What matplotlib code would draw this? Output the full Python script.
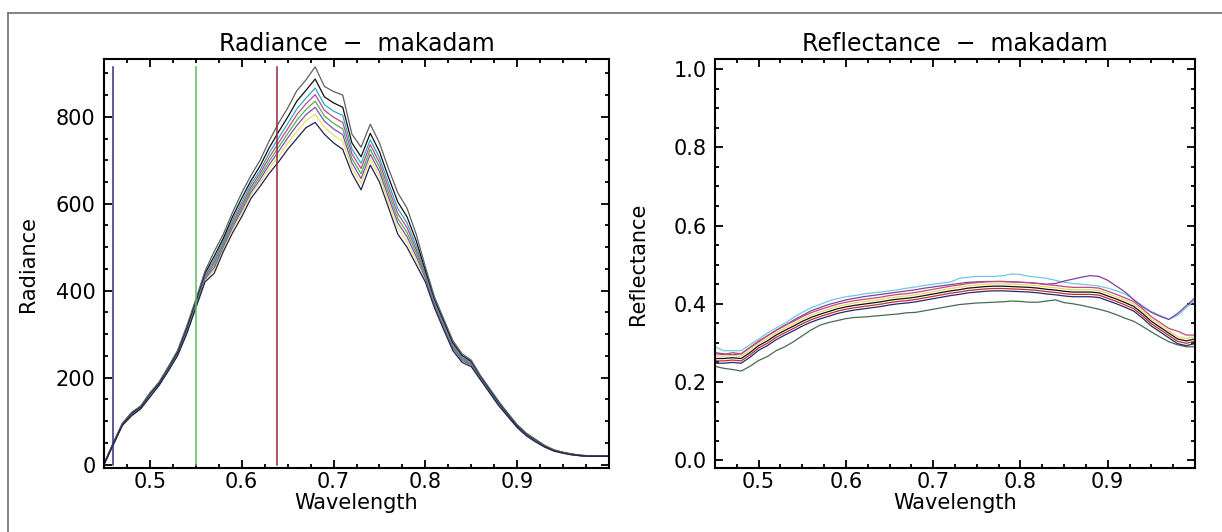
import matplotlib
matplotlib.use("Agg")
import matplotlib.pyplot as plt
from matplotlib.ticker import MultipleLocator, FixedLocator, FormatStrFormatter
from matplotlib.lines import Line2D

plt.rcParams['font.family'] = ['DejaVu Sans']

# ---------------- data ----------------
wavelength = [0.45, 0.46, 0.47, 0.48, 0.49, 0.50, 0.51, 0.52, 0.53, 0.54,
              0.55, 0.56, 0.57, 0.58, 0.59, 0.60, 0.61, 0.62, 0.63, 0.64,
              0.65, 0.66, 0.67, 0.68, 0.69, 0.70, 0.71, 0.72, 0.73, 0.74,
              0.75, 0.76, 0.77, 0.78, 0.79, 0.80, 0.81, 0.82, 0.83, 0.84,
              0.85, 0.86, 0.87, 0.88, 0.89, 0.90, 0.91, 0.92, 0.93, 0.94,
              0.95, 0.96, 0.97, 0.98, 0.99, 1.00]

rad_gray = [0, 50, 95, 120, 135, 165, 190, 225, 262, 318, 380, 445, 490, 530, 580, 625,
            665, 700, 745, 785, 820, 860, 885, 915, 870, 858, 850, 760, 730, 783, 740, 680,
            625, 590, 530, 455, 385, 335, 285, 255, 240, 205, 175, 145, 118, 92, 72, 58,
            44, 34, 28, 24, 21, 20, 20, 20]
rad_black = [0, 49, 94, 118, 133, 163, 188, 223, 259, 314, 376, 440, 479, 521, 570, 613,
             653, 687, 729, 765, 799, 836, 861, 887, 846, 832, 822, 740, 708, 762, 720, 660,
             604, 570, 515, 447, 380, 330, 280, 251, 237, 203, 173, 143, 116, 90, 71, 57,
             43, 33, 28, 24, 21, 20, 20, 20]
rad_cyan = [2, 48, 93, 117, 132, 161, 187, 221, 257, 311, 372, 435, 471, 515, 562, 604,
            645, 677, 717, 751, 784, 818, 843, 866, 828, 813, 803, 726, 693, 747, 706, 646,
            589, 556, 503, 442, 375, 325, 276, 247, 234, 201, 171, 141, 115, 89, 70, 56,
            42, 33, 27, 23, 21, 20, 20, 20]
rad_magenta = [0, 47, 92, 116, 131, 160, 186, 220, 256, 309, 370, 432, 465, 510, 556, 597,
               638, 670, 707, 740, 772, 805, 830, 851, 815, 799, 787, 715, 681, 736, 695, 635,
               577, 545, 495, 437, 372, 322, 273, 245, 232, 200, 170, 140, 114, 88, 69, 55,
               42, 32, 27, 23, 20, 20, 20, 20]
rad_green = [3, 47, 92, 115, 131, 159, 185, 219, 255, 307, 368, 430, 459, 505, 551, 591,
             632, 663, 698, 730, 761, 792, 817, 836, 802, 785, 772, 704, 669, 725, 684, 624,
             566, 534, 487, 433, 370, 320, 271, 243, 231, 199, 169, 139, 113, 88, 68, 54,
             42, 32, 27, 23, 20, 19, 19, 19]
rad_purple = [1, 46, 91, 114, 130, 158, 184, 218, 253, 305, 365, 427, 453, 501, 546, 585,
              626, 656, 690, 720, 751, 780, 805, 822, 790, 772, 759, 694, 658, 714, 674, 614,
              556, 524, 479, 429, 367, 317, 268, 240, 229, 198, 168, 138, 112, 87, 68, 54,
              41, 32, 27, 23, 20, 19, 19, 19]
rad_yellow = [2, 45, 91, 113, 129, 157, 183, 216, 252, 303, 363, 424, 447, 496, 540, 578,
              620, 649, 681, 709, 739, 766, 791, 806, 776, 758, 744, 683, 647, 703, 663, 603,
              544, 513, 470, 425, 364, 314, 265, 238, 227, 196, 166, 136, 111, 86, 67, 53,
              41, 31, 26, 22, 20, 19, 19, 19]
rad_navy = [0, 45, 90, 112, 128, 155, 182, 215, 250, 300, 360, 420, 440, 490, 533, 570,
            612, 640, 670, 696, 725, 750, 775, 787, 760, 740, 725, 670, 632, 689, 650, 590,
            530, 500, 460, 420, 360, 310, 262, 235, 225, 195, 165, 135, 110, 85, 66, 52,
            40, 31, 26, 22, 20, 19, 19, 19]

band_positions = [0.46, 0.55, 0.638]
band_top = 914

ref_cyan = [0.290, 0.280, 0.280, 0.280, 0.295, 0.310, 0.325, 0.338, 0.350, 0.365, 0.378, 0.390,
            0.398, 0.407, 0.413, 0.418, 0.421, 0.425, 0.428, 0.430, 0.433, 0.436, 0.440, 0.443,
            0.447, 0.450, 0.453, 0.456, 0.465, 0.468, 0.470, 0.470, 0.470, 0.472, 0.476, 0.475,
            0.470, 0.468, 0.465, 0.460, 0.455, 0.452, 0.450, 0.448, 0.445, 0.440, 0.433, 0.425,
            0.410, 0.395, 0.380, 0.370, 0.360, 0.370, 0.390, 0.410]
ref_purple = [0.275, 0.272, 0.270, 0.272, 0.288, 0.303, 0.318, 0.332, 0.344, 0.358, 0.370, 0.382,
              0.390, 0.398, 0.404, 0.410, 0.414, 0.418, 0.421, 0.424, 0.427, 0.430, 0.433, 0.436,
              0.440, 0.443, 0.446, 0.449, 0.452, 0.455, 0.456, 0.457, 0.457, 0.457, 0.456, 0.455,
              0.454, 0.452, 0.450, 0.452, 0.458, 0.463, 0.468, 0.472, 0.470, 0.460, 0.445, 0.430,
              0.410, 0.392, 0.378, 0.368, 0.360, 0.375, 0.395, 0.415]
ref_magenta = [0.272, 0.270, 0.275, 0.272, 0.288, 0.305, 0.318, 0.332, 0.345, 0.355, 0.367, 0.377,
               0.385, 0.392, 0.399, 0.404, 0.408, 0.411, 0.414, 0.417, 0.421, 0.424, 0.426, 0.429,
               0.433, 0.437, 0.441, 0.445, 0.448, 0.452, 0.454, 0.456, 0.457, 0.457, 0.456, 0.455,
               0.454, 0.452, 0.449, 0.447, 0.444, 0.442, 0.442, 0.442, 0.440, 0.432, 0.424, 0.415,
               0.405, 0.387, 0.367, 0.352, 0.337, 0.330, 0.320, 0.320]
ref_yellow = [0.266, 0.266, 0.268, 0.266, 0.281, 0.299, 0.311, 0.326, 0.338, 0.349, 0.361, 0.371,
              0.379, 0.386, 0.393, 0.398, 0.402, 0.405, 0.408, 0.411, 0.415, 0.418, 0.420, 0.423,
              0.427, 0.431, 0.435, 0.439, 0.442, 0.446, 0.448, 0.450, 0.451, 0.451, 0.450, 0.449,
              0.448, 0.446, 0.443, 0.441, 0.438, 0.436, 0.436, 0.436, 0.434, 0.426, 0.418, 0.409,
              0.399, 0.381, 0.361, 0.346, 0.331, 0.316, 0.311, 0.316]
ref_black = [0.260, 0.260, 0.262, 0.260, 0.275, 0.293, 0.305, 0.320, 0.332, 0.343, 0.355, 0.365,
             0.373, 0.380, 0.387, 0.392, 0.396, 0.399, 0.402, 0.405, 0.409, 0.412, 0.414, 0.417,
             0.421, 0.425, 0.429, 0.433, 0.436, 0.440, 0.442, 0.444, 0.445, 0.445, 0.444, 0.443,
             0.442, 0.440, 0.437, 0.435, 0.432, 0.430, 0.430, 0.430, 0.428, 0.420, 0.412, 0.403,
             0.393, 0.375, 0.355, 0.340, 0.325, 0.310, 0.305, 0.310]
ref_red = [0.254, 0.254, 0.256, 0.254, 0.269, 0.287, 0.299, 0.314, 0.326, 0.337, 0.349, 0.359,
           0.367, 0.374, 0.381, 0.386, 0.390, 0.393, 0.396, 0.399, 0.403, 0.406, 0.408, 0.411,
           0.415, 0.419, 0.423, 0.427, 0.430, 0.434, 0.436, 0.438, 0.439, 0.439, 0.438, 0.437,
           0.436, 0.434, 0.431, 0.429, 0.426, 0.424, 0.424, 0.424, 0.422, 0.414, 0.406, 0.397,
           0.387, 0.369, 0.349, 0.334, 0.319, 0.304, 0.299, 0.304]
ref_navy = [0.248, 0.248, 0.250, 0.248, 0.263, 0.281, 0.293, 0.308, 0.320, 0.331, 0.343, 0.353,
            0.361, 0.368, 0.375, 0.380, 0.384, 0.387, 0.390, 0.393, 0.397, 0.400, 0.402, 0.405,
            0.409, 0.413, 0.417, 0.421, 0.424, 0.428, 0.430, 0.432, 0.433, 0.433, 0.432, 0.431,
            0.430, 0.428, 0.425, 0.423, 0.420, 0.418, 0.418, 0.418, 0.416, 0.408, 0.400, 0.391,
            0.381, 0.363, 0.343, 0.328, 0.313, 0.298, 0.293, 0.298]
ref_dkgreen = [0.240, 0.235, 0.232, 0.228, 0.240, 0.255, 0.265, 0.280, 0.290, 0.303, 0.318, 0.333,
               0.345, 0.352, 0.357, 0.362, 0.365, 0.366, 0.368, 0.370, 0.372, 0.374, 0.377, 0.378,
               0.382, 0.386, 0.390, 0.394, 0.398, 0.400, 0.402, 0.403, 0.404, 0.405, 0.407, 0.406,
               0.404, 0.404, 0.407, 0.410, 0.403, 0.400, 0.396, 0.391, 0.386, 0.380, 0.372, 0.363,
               0.355, 0.342, 0.328, 0.315, 0.303, 0.295, 0.290, 0.290]

x_ticks = [0.5, 0.6, 0.7, 0.8, 0.9]
rad_yticks = [0, 200, 400, 600, 800]
ref_yticks = [0.0, 0.2, 0.4, 0.6, 0.8, 1.0]

# ---------------- figure ----------------
W, H = 1222, 532
fig = plt.figure(figsize=(W / 100, H / 100), dpi=100)

# outer gray frame (top and left visible)
fig.add_artist(Line2D([8 / W, 1.0], [1 - 13 / H, 1 - 13 / H], transform=fig.transFigure,
                      color='#7a7a7a', lw=1.3))
fig.add_artist(Line2D([8 / W, 8 / W], [0.0, 1 - 13 / H], transform=fig.transFigure,
                      color='#7a7a7a', lw=1.3))

AX_BOTTOM = 468
ax1 = fig.add_axes([104 / W, (H - AX_BOTTOM) / H, 505 / W, (AX_BOTTOM - 59) / H])
ax2 = fig.add_axes([715 / W, (H - AX_BOTTOM) / H, 480 / W, (AX_BOTTOM - 59) / H])

rad_series = [
    (rad_yellow, '#e8e070'), (rad_purple, '#8050b0'), (rad_green, '#50b050'),
    (rad_magenta, '#c04890'), (rad_cyan, '#30a8c0'), (rad_black, '#101010'),
    (rad_gray, '#606060'), (rad_navy, '#202050'),
]
for vals, c in rad_series:
    ax1.plot(wavelength, vals, color=c, lw=0.9)

band_colors = ['#303078', '#58c058', '#902838']
for xb, cb in zip(band_positions, band_colors):
    ax1.plot([xb, xb], [0, band_top], color=cb, lw=1.1)

ref_series = [
    (ref_dkgreen, '#4a6a50'), (ref_cyan, '#70c8e0'), (ref_purple, '#8040a0'),
    (ref_magenta, '#c04880'), (ref_yellow, '#e8d860'), (ref_red, '#c03030'),
    (ref_black, '#101010'), (ref_navy, '#282870'),
]
for vals, c in ref_series:
    ax2.plot(wavelength, vals, color=c, lw=0.9)

ax1.set_xlim(0.45, 1.0)
ax1.set_ylim(-8, 933)
ax2.set_xlim(0.45, 1.0)
ax2.set_ylim(-0.02, 1.026)

fs_tick = 15
for ax in (ax1, ax2):
    ax.xaxis.set_major_locator(FixedLocator(x_ticks))
    ax.xaxis.set_minor_locator(MultipleLocator(0.025))
    ax.xaxis.set_major_formatter(FormatStrFormatter('%.1f'))
    ax.tick_params(which='both', direction='in', top=True, right=True, width=1.3,
                   labelsize=fs_tick, color='black')
    ax.tick_params(which='major', length=6)
    ax.tick_params(which='minor', length=3)
    ax.tick_params(axis='x', pad=3)
    ax.tick_params(axis='y', pad=6)
    for s in ax.spines.values():
        s.set_linewidth(1.5)
        s.set_color('black')
    ax.set_xlabel('Wavelength', fontsize=fs_tick)
    ax.xaxis.set_label_coords(0.5, -0.062)
    ax.xaxis.label.set_va('top')

ax1.yaxis.set_major_locator(FixedLocator(rad_yticks))
ax1.yaxis.set_minor_locator(MultipleLocator(50))
ax1.yaxis.set_major_formatter(FormatStrFormatter('%d'))
ax2.yaxis.set_major_locator(FixedLocator(ref_yticks))
ax2.yaxis.set_minor_locator(MultipleLocator(0.05))
ax2.yaxis.set_major_formatter(FormatStrFormatter('%.1f'))

ax1.set_ylabel('Radiance', fontsize=fs_tick)
ax1.yaxis.set_label_coords(-0.13, 0.5)
ax2.set_ylabel('Reflectance', fontsize=fs_tick)
ax2.yaxis.set_label_coords(-0.14, 0.5)

ax1.set_title('Radiance  \u2212  makadam', fontsize=17, pad=6)
ax2.set_title('Reflectance  \u2212  makadam', fontsize=17, pad=6)

fig.savefig('out.png', dpi=100)
